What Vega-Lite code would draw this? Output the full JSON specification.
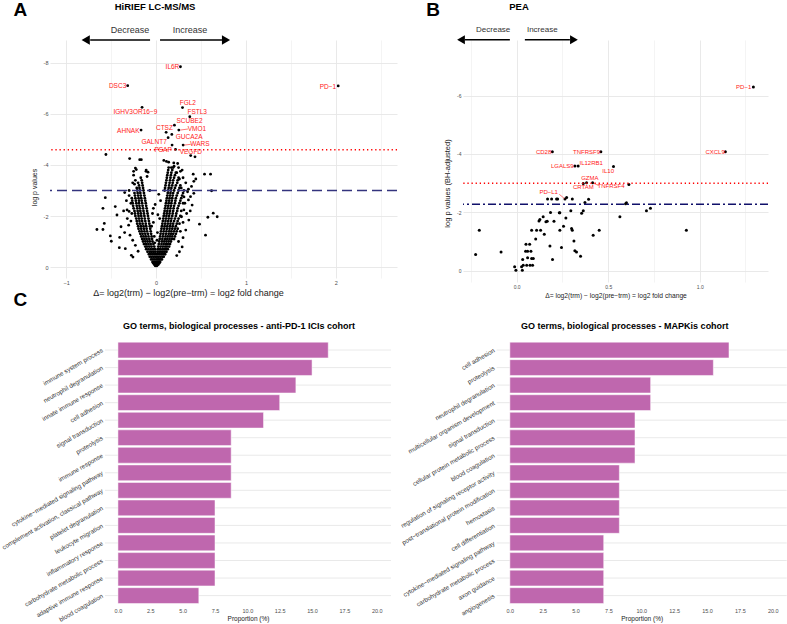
{
  "$schema": "https://vega.github.io/schema/vega-lite/v6.json",
  "padding": {"left": 0, "top": 0, "right": 0, "bottom": 0},
  "config": {
    "font": "Liberation Sans",
    "view": {"stroke": null},
    "axis": {"domain": false, "ticks": false, "gridColor": "#E6E6E6", "labelColor": "#4D4D4D", "titleColor": "#1A1A1A", "titleFontWeight": "normal"},
    "title": {"color": "#000000"}
  },
  "datasets": {
    "aPts": [
      {"x":0.271,"y":7.85},{"x":-0.316,"y":7.11},{"x":2.026,"y":7.1},{"x":0.294,"y":6.25},{"x":-0.156,"y":6.26},{"x":0.375,"y":5.89},{"x":0.204,"y":5.56},{"x":0.112,"y":5.28},{"x":0.253,"y":5.37},{"x":-0.167,"y":5.37},{"x":0.175,"y":5.2},{"x":0.134,"y":5.07},{"x":0.301,"y":4.78},{"x":0.178,"y":4.78},{"x":0.216,"y":4.61},{"x":0.385,"y":4.37},{"x":0.433,"y":4.32},
      {"x":-0.558,"y":4.41},{"x":-0.294,"y":4.25},{"x":-0.182,"y":4.21},{"x":-0.164,"y":4.21},{"x":-0.23,"y":3.88},{"x":-0.25,"y":3.75},{"x":-0.22,"y":3.82},{"x":-0.112,"y":3.75},{"x":-0.09,"y":3.72},{"x":-0.1,"y":3.55},{"x":-0.25,"y":3.6},{"x":-0.23,"y":3.4},{"x":-0.26,"y":3.3},{"x":-0.24,"y":3.25},{"x":-0.349,"y":2.92},{"x":-0.565,"y":2.72},{"x":-0.591,"y":2.3},{"x":-0.454,"y":2.37},{"x":-0.435,"y":2.04},{"x":-0.361,"y":2.2},{"x":-0.323,"y":2.24},{"x":-0.3,"y":2.18},{"x":-0.576,"y":1.71},{"x":-0.658,"y":1.47},{"x":-0.591,"y":1.47},{"x":-0.509,"y":1.22},{"x":-0.498,"y":1.01},{"x":-0.405,"y":1.16},{"x":-0.409,"y":0.76},{"x":-0.342,"y":0.72},{"x":-0.275,"y":0.46},{"x":-0.257,"y":0.39},{"x":-0.39,"y":1.58},{"x":-0.305,"y":1.64},{"x":-0.28,"y":1.8},{"x":-0.33,"y":2.6},{"x":-0.3,"y":2.8},{"x":-0.28,"y":2.5},{"x":-0.32,"y":1.9},{"x":-0.35,"y":1.35},{"x":-0.29,"y":1.25},{"x":-0.26,"y":1.05},{"x":-0.23,"y":0.85},{"x":-0.2,"y":0.62},{"x":-0.27,"y":2.1},{"x":-0.3,"y":3.0},
      {"x":0.086,"y":4.18},{"x":0.115,"y":4.14},{"x":0.14,"y":4.11},{"x":0.197,"y":4.08},{"x":0.24,"y":4.06},{"x":0.271,"y":3.75},{"x":0.25,"y":3.9},{"x":0.413,"y":3.64},{"x":0.442,"y":3.45},{"x":0.42,"y":3.36},{"x":0.394,"y":3.16},{"x":0.539,"y":3.64},{"x":0.606,"y":3.64},{"x":0.617,"y":2.99},{"x":0.42,"y":2.89},{"x":0.383,"y":2.76},{"x":0.36,"y":2.63},{"x":0.401,"y":2.43},{"x":0.309,"y":2.24},{"x":0.283,"y":1.97},{"x":0.364,"y":1.84},{"x":0.483,"y":1.68},{"x":0.576,"y":1.95},{"x":0.636,"y":2.11},{"x":0.68,"y":1.97},{"x":0.55,"y":1.25},{"x":0.33,"y":1.45},{"x":0.3,"y":1.15},{"x":0.29,"y":0.79},{"x":0.26,"y":0.6},{"x":0.23,"y":0.45},{"x":0.35,"y":2.95},{"x":0.33,"y":3.3},{"x":0.3,"y":3.5},{"x":0.28,"y":3.1},{"x":0.32,"y":2.5},{"x":0.34,"y":2.1},{"x":0.3,"y":1.75},{"x":0.27,"y":1.4},{"x":0.25,"y":1.0},{"x":0.31,"y":2.75},{"x":0.36,"y":3.05},{"x":0.38,"y":2.2},{"x":0.29,"y":3.8},{"x":0.2,"y":3.95},{"x":0.17,"y":3.9},{"x":0.23,"y":3.7},{"x":0.26,"y":3.45},
      {"x":-0.05,"y":1.6},{"x":0.04,"y":1.9},{"x":-0.03,"y":2.3},{"x":0.05,"y":2.6},{"x":-0.02,"y":1.2},{"x":0.015,"y":1.35},{"x":-0.03,"y":1.75},{"x":0.02,"y":2.05},{"x":-0.01,"y":2.45},{"x":0.03,"y":2.85},{"x":-0.04,"y":2.1},{"x":0.01,"y":1.05},{"x":-0.015,"y":0.95},
      {"x":-0.01,"y":0.05},{"x":0,"y":0.05},{"x":0.01,"y":0.05},
      {"x":-0.02,"y":0.1},{"x":-0.01,"y":0.1},{"x":0.005,"y":0.1},{"x":0.015,"y":0.1},{"x":0.025,"y":0.1},
      {"x":-0.03,"y":0.15},{"x":-0.015,"y":0.15},{"x":0,"y":0.15},{"x":0.012,"y":0.15},{"x":0.025,"y":0.15},{"x":0.035,"y":0.15},
      {"x":-0.04,"y":0.2},{"x":-0.025,"y":0.2},{"x":-0.01,"y":0.2},{"x":0.005,"y":0.2},{"x":0.02,"y":0.2},{"x":0.035,"y":0.2},{"x":0.045,"y":0.2},
      {"x":-0.055,"y":0.3},{"x":-0.035,"y":0.3},{"x":-0.015,"y":0.3},{"x":0.005,"y":0.3},{"x":0.02,"y":0.3},{"x":0.035,"y":0.3},{"x":0.05,"y":0.3},{"x":0.065,"y":0.3},
      {"x":-0.07,"y":0.4},{"x":-0.05,"y":0.4},{"x":-0.03,"y":0.4},{"x":-0.01,"y":0.4},{"x":0.01,"y":0.4},{"x":0.03,"y":0.4},{"x":0.05,"y":0.4},{"x":0.07,"y":0.4},{"x":0.085,"y":0.4},
      {"x":-0.08,"y":0.5},{"x":-0.06,"y":0.5},{"x":-0.04,"y":0.5},{"x":-0.02,"y":0.5},{"x":0,"y":0.5},{"x":0.02,"y":0.5},{"x":0.04,"y":0.5},{"x":0.06,"y":0.5},{"x":0.08,"y":0.5},{"x":0.1,"y":0.5},
      {"x":-0.095,"y":0.6},{"x":-0.07,"y":0.6},{"x":-0.05,"y":0.6},{"x":-0.03,"y":0.6},{"x":-0.01,"y":0.6},{"x":0.015,"y":0.6},{"x":0.035,"y":0.6},{"x":0.055,"y":0.6},{"x":0.075,"y":0.6},{"x":0.095,"y":0.6},{"x":0.115,"y":0.6},
      {"x":-0.11,"y":0.7},{"x":-0.085,"y":0.7},{"x":-0.06,"y":0.7},{"x":-0.035,"y":0.7},{"x":-0.01,"y":0.7},{"x":0.02,"y":0.7},{"x":0.045,"y":0.7},{"x":0.07,"y":0.7},{"x":0.09,"y":0.7},{"x":0.11,"y":0.7},{"x":0.13,"y":0.7},
      {"x":-0.12,"y":0.8},{"x":-0.1,"y":0.8},{"x":-0.075,"y":0.8},{"x":-0.05,"y":0.8},{"x":-0.02,"y":0.8},{"x":0.025,"y":0.8},{"x":0.05,"y":0.8},{"x":0.075,"y":0.8},{"x":0.1,"y":0.8},{"x":0.12,"y":0.8},{"x":0.145,"y":0.8},
      {"x":-0.135,"y":0.9},{"x":-0.11,"y":0.9},{"x":-0.085,"y":0.9},{"x":-0.06,"y":0.9},{"x":-0.03,"y":0.9},{"x":0.03,"y":0.9},{"x":0.06,"y":0.9},{"x":0.085,"y":0.9},{"x":0.11,"y":0.9},{"x":0.13,"y":0.9},{"x":0.155,"y":0.9},
      {"x":-0.145,"y":1.0},{"x":-0.12,"y":1.0},{"x":-0.095,"y":1.0},{"x":-0.07,"y":1.0},{"x":-0.04,"y":1.0},{"x":0.035,"y":1.0},{"x":0.065,"y":1.0},{"x":0.09,"y":1.0},{"x":0.115,"y":1.0},{"x":0.14,"y":1.0},{"x":0.165,"y":1.0},
      {"x":-0.155,"y":1.1},{"x":-0.13,"y":1.1},{"x":-0.105,"y":1.1},{"x":-0.075,"y":1.1},{"x":-0.045,"y":1.1},{"x":0.04,"y":1.1},{"x":0.07,"y":1.1},{"x":0.1,"y":1.1},{"x":0.125,"y":1.1},{"x":0.15,"y":1.1},{"x":0.175,"y":1.1},{"x":0.2,"y":1.1},
      {"x":-0.165,"y":1.2},{"x":-0.14,"y":1.2},{"x":-0.115,"y":1.2},{"x":-0.085,"y":1.2},{"x":-0.05,"y":1.2},{"x":0.045,"y":1.2},{"x":0.075,"y":1.2},{"x":0.105,"y":1.2},{"x":0.13,"y":1.2},{"x":0.155,"y":1.2},{"x":0.18,"y":1.2},{"x":0.21,"y":1.2},
      {"x":-0.175,"y":1.3},{"x":-0.15,"y":1.3},{"x":-0.12,"y":1.3},{"x":-0.09,"y":1.3},{"x":-0.055,"y":1.3},{"x":0.05,"y":1.3},{"x":0.08,"y":1.3},{"x":0.11,"y":1.3},{"x":0.14,"y":1.3},{"x":0.165,"y":1.3},{"x":0.19,"y":1.3},{"x":0.22,"y":1.3},
      {"x":-0.185,"y":1.4},{"x":-0.16,"y":1.4},{"x":-0.13,"y":1.4},{"x":-0.1,"y":1.4},{"x":-0.06,"y":1.4},{"x":0.055,"y":1.4},{"x":0.085,"y":1.4},{"x":0.115,"y":1.4},{"x":0.145,"y":1.4},{"x":0.17,"y":1.4},{"x":0.2,"y":1.4},{"x":0.23,"y":1.4},
      {"x":-0.195,"y":1.5},{"x":-0.165,"y":1.5},{"x":-0.135,"y":1.5},{"x":-0.105,"y":1.5},{"x":-0.065,"y":1.5},{"x":0.06,"y":1.5},{"x":0.09,"y":1.5},{"x":0.12,"y":1.5},{"x":0.15,"y":1.5},{"x":0.18,"y":1.5},{"x":0.21,"y":1.5},{"x":0.24,"y":1.5},
      {"x":-0.2,"y":1.6},{"x":-0.17,"y":1.6},{"x":-0.14,"y":1.6},{"x":-0.11,"y":1.6},{"x":-0.07,"y":1.6},{"x":0.065,"y":1.6},{"x":0.095,"y":1.6},{"x":0.125,"y":1.6},{"x":0.155,"y":1.6},{"x":0.185,"y":1.6},{"x":0.22,"y":1.6},
      {"x":-0.21,"y":1.7},{"x":-0.18,"y":1.7},{"x":-0.15,"y":1.7},{"x":-0.115,"y":1.7},{"x":-0.075,"y":1.7},{"x":0.07,"y":1.7},{"x":0.1,"y":1.7},{"x":0.13,"y":1.7},{"x":0.16,"y":1.7},{"x":0.19,"y":1.7},{"x":0.23,"y":1.7},{"x":0.26,"y":1.7},
      {"x":-0.215,"y":1.8},{"x":-0.185,"y":1.8},{"x":-0.155,"y":1.8},{"x":-0.12,"y":1.8},{"x":-0.08,"y":1.8},{"x":0.075,"y":1.8},{"x":0.105,"y":1.8},{"x":0.135,"y":1.8},{"x":0.165,"y":1.8},{"x":0.2,"y":1.8},{"x":0.24,"y":1.8},
      {"x":-0.22,"y":1.9},{"x":-0.19,"y":1.9},{"x":-0.16,"y":1.9},{"x":-0.125,"y":1.9},{"x":-0.085,"y":1.9},{"x":0.08,"y":1.9},{"x":0.11,"y":1.9},{"x":0.14,"y":1.9},{"x":0.17,"y":1.9},{"x":0.21,"y":1.9},{"x":0.25,"y":1.9},
      {"x":-0.23,"y":2.0},{"x":-0.195,"y":2.0},{"x":-0.165,"y":2.0},{"x":-0.13,"y":2.0},{"x":-0.09,"y":2.0},{"x":0.085,"y":2.0},{"x":0.115,"y":2.0},{"x":0.145,"y":2.0},{"x":0.18,"y":2.0},{"x":0.22,"y":2.0},{"x":0.27,"y":2.0},
      {"x":-0.235,"y":2.1},{"x":-0.2,"y":2.1},{"x":-0.17,"y":2.1},{"x":-0.135,"y":2.1},{"x":-0.095,"y":2.1},{"x":0.09,"y":2.1},{"x":0.12,"y":2.1},{"x":0.15,"y":2.1},{"x":0.185,"y":2.1},{"x":0.225,"y":2.1},
      {"x":-0.24,"y":2.2},{"x":-0.205,"y":2.2},{"x":-0.175,"y":2.2},{"x":-0.14,"y":2.2},{"x":-0.1,"y":2.2},{"x":0.095,"y":2.2},{"x":0.125,"y":2.2},{"x":0.155,"y":2.2},{"x":0.19,"y":2.2},{"x":0.235,"y":2.2},{"x":0.28,"y":2.2},
      {"x":-0.25,"y":2.3},{"x":-0.21,"y":2.3},{"x":-0.18,"y":2.3},{"x":-0.145,"y":2.3},{"x":-0.105,"y":2.3},{"x":0.1,"y":2.3},{"x":0.13,"y":2.3},{"x":0.16,"y":2.3},{"x":0.195,"y":2.3},{"x":0.24,"y":2.3},
      {"x":-0.255,"y":2.4},{"x":-0.215,"y":2.4},{"x":-0.185,"y":2.4},{"x":-0.15,"y":2.4},{"x":-0.11,"y":2.4},{"x":0.105,"y":2.4},{"x":0.135,"y":2.4},{"x":0.165,"y":2.4},{"x":0.2,"y":2.4},{"x":0.25,"y":2.4},
      {"x":-0.26,"y":2.5},{"x":-0.22,"y":2.5},{"x":-0.19,"y":2.5},{"x":-0.155,"y":2.5},{"x":-0.115,"y":2.5},{"x":0.11,"y":2.5},{"x":0.14,"y":2.5},{"x":0.17,"y":2.5},{"x":0.21,"y":2.5},{"x":0.26,"y":2.5},{"x":0.3,"y":2.5},
      {"x":-0.265,"y":2.6},{"x":-0.225,"y":2.6},{"x":-0.19,"y":2.6},{"x":-0.16,"y":2.6},{"x":-0.12,"y":2.6},{"x":0.115,"y":2.6},{"x":0.145,"y":2.6},{"x":0.175,"y":2.6},{"x":0.215,"y":2.6},{"x":0.27,"y":2.6},
      {"x":-0.27,"y":2.7},{"x":-0.23,"y":2.7},{"x":-0.195,"y":2.7},{"x":-0.165,"y":2.7},{"x":-0.125,"y":2.7},{"x":0.12,"y":2.7},{"x":0.15,"y":2.7},{"x":0.18,"y":2.7},{"x":0.22,"y":2.7},{"x":0.28,"y":2.7},
      {"x":-0.235,"y":2.8},{"x":-0.2,"y":2.8},{"x":-0.17,"y":2.8},{"x":-0.13,"y":2.8},{"x":0.125,"y":2.8},{"x":0.155,"y":2.8},{"x":0.185,"y":2.8},{"x":0.23,"y":2.8},{"x":0.29,"y":2.8},
      {"x":-0.24,"y":2.9},{"x":-0.205,"y":2.9},{"x":-0.175,"y":2.9},{"x":-0.135,"y":2.9},{"x":0.13,"y":2.9},{"x":0.16,"y":2.9},{"x":0.19,"y":2.9},{"x":0.24,"y":2.9},{"x":0.3,"y":2.9},
      {"x":-0.21,"y":3.0},{"x":-0.18,"y":3.0},{"x":-0.14,"y":3.0},{"x":-0.07,"y":3.0},{"x":0.095,"y":3.0},{"x":0.135,"y":3.0},{"x":0.165,"y":3.0},{"x":0.2,"y":3.0},{"x":0.25,"y":3.0},{"x":0.31,"y":3.0},
      {"x":-0.215,"y":3.1},{"x":-0.185,"y":3.1},{"x":-0.145,"y":3.1},{"x":0.1,"y":3.1},{"x":0.14,"y":3.1},{"x":0.17,"y":3.1},{"x":0.21,"y":3.1},{"x":0.26,"y":3.1},
      {"x":-0.19,"y":3.2},{"x":-0.15,"y":3.2},{"x":0.105,"y":3.2},{"x":0.145,"y":3.2},{"x":0.18,"y":3.2},{"x":0.22,"y":3.2},{"x":0.27,"y":3.2},
      {"x":-0.2,"y":3.3},{"x":-0.155,"y":3.3},{"x":0.11,"y":3.3},{"x":0.15,"y":3.3},{"x":0.185,"y":3.3},{"x":0.235,"y":3.3},
      {"x":-0.16,"y":3.4},{"x":0.115,"y":3.4},{"x":0.155,"y":3.4},{"x":0.19,"y":3.4},{"x":0.24,"y":3.4},
      {"x":-0.17,"y":3.5},{"x":0.12,"y":3.5},{"x":0.16,"y":3.5},{"x":0.2,"y":3.5},{"x":0.25,"y":3.5},
      {"x":0.125,"y":3.6},{"x":0.165,"y":3.6},{"x":0.21,"y":3.6},
      {"x":0.13,"y":3.7},{"x":0.17,"y":3.7},{"x":0.22,"y":3.7},
      {"x":-0.11,"y":3.8},{"x":0.135,"y":3.8},{"x":0.18,"y":3.8},
      {"x":0.14,"y":3.9},{"x":0.19,"y":3.9}
    ],
    "aLab": [
      {"lx":0.182,"ly":7.84,"label":"IL6R"},{"lx":-0.428,"ly":7.11,"label":"DSC3"},{"lx":1.911,"ly":7.07,"label":"PD−1"},{"lx":0.353,"ly":6.42,"label":"FGL2"},{"lx":-0.23,"ly":6.09,"label":"IGHV3OR16−9"},{"lx":0.457,"ly":6.07,"label":"FSTL3"},{"lx":0.372,"ly":5.73,"label":"SCUBE2"},{"lx":0.093,"ly":5.44,"label":"CTSZ"},{"lx":0.454,"ly":5.41,"label":"VMO1"},{"lx":-0.309,"ly":5.35,"label":"AHNAK"},{"lx":0.368,"ly":5.11,"label":"GUCA2A"},{"lx":-0.022,"ly":4.9,"label":"GALNT7"},{"lx":0.487,"ly":4.81,"label":"WARS"},{"lx":0.078,"ly":4.59,"label":"PSAP"},{"lx":0.387,"ly":4.5,"label":"VEGFD"}
    ],
    "aSeg": [{"x":0.27,"y":5.37,"x2":0.355,"y2":5.41},{"x":0.31,"y":4.78,"x2":0.385,"y2":4.81}],
    "aArrow": [{"x":-0.733,"x2":-0.067,"y":8.9},{"x":0.044,"x2":0.733,"y":8.9}],
    "aHead": [{"x":-0.783,"y":8.9,"dir":"left"},{"x":0.778,"y":8.9,"dir":"right"}],
    "aWords": [{"x":-0.289,"y":9.29,"t":"Decrease"},{"x":0.378,"y":9.29,"t":"Increase"}],
    "aHeading": [{"x":-0.011,"y":10.18,"t":"HiRIEF LC-MS/MS"}],
    "aLetters": [{"x":-1.511,"y":10.08,"t":"A"},{"x":-1.511,"y":-1.29,"t":"C"}],
    "bPts": [
      {"x":1.293,"y":6.29},{"x":0.195,"y":4.08},{"x":0.46,"y":4.08},{"x":1.14,"y":4.08},{"x":0.318,"y":3.59},{"x":0.336,"y":3.59},{"x":0.529,"y":3.57},{"x":0.364,"y":2.99},{"x":0.382,"y":3.02},{"x":0.415,"y":3.02},{"x":0.613,"y":2.96},{"x":0.264,"y":2.46},
      {"x":-0.224,"y":0.56},{"x":-0.204,"y":1.39},{"x":-0.085,"y":0.65},{"x":-0.011,"y":0.14},{"x":-0.004,"y":0.02},{"x":0.027,"y":0.14},{"x":0.031,"y":0.02},{"x":0.033,"y":0.39},{"x":0.036,"y":0.19},{"x":0.049,"y":0.67},{"x":0.055,"y":0.19},{"x":0.06,"y":0.45},{"x":0.051,"y":0.91},{"x":0.071,"y":0.91},{"x":0.06,"y":0.67},{"x":0.073,"y":0.19},{"x":0.082,"y":0.42},{"x":0.078,"y":0.67},{"x":0.087,"y":0.19},{"x":0.091,"y":0.42},{"x":0.104,"y":1.09},{"x":0.082,"y":1.39},{"x":0.109,"y":1.39},{"x":0.131,"y":1.39},{"x":0.122,"y":1.71},{"x":0.127,"y":1.76},{"x":0.145,"y":1.85},{"x":0.16,"y":1.68},{"x":0.167,"y":1.7},{"x":0.185,"y":2.0},{"x":0.204,"y":1.7},{"x":0.151,"y":1.25},{"x":0.182,"y":0.85},{"x":0.196,"y":0.39},{"x":0.233,"y":1.99},{"x":0.236,"y":1.99},{"x":0.236,"y":1.39},{"x":0.245,"y":0.8},{"x":0.256,"y":1.53},{"x":0.269,"y":1.81},{"x":0.296,"y":2.06},{"x":0.3,"y":1.45},{"x":0.304,"y":1.39},{"x":0.313,"y":1.02},{"x":0.318,"y":0.69},{"x":0.327,"y":0.65},{"x":0.349,"y":0.5},{"x":0.355,"y":1.97},{"x":0.364,"y":2.06},{"x":0.373,"y":2.34},{"x":0.393,"y":2.45},{"x":0.418,"y":1.22},{"x":0.451,"y":1.39},{"x":0.169,"y":2.46},{"x":0.191,"y":2.46},{"x":0.218,"y":2.46},{"x":0.224,"y":2.46},{"x":0.273,"y":2.51},{"x":0.304,"y":2.46},{"x":0.564,"y":1.85},{"x":0.6,"y":2.33},{"x":0.595,"y":2.3},{"x":0.709,"y":2.06},{"x":0.731,"y":2.14},{"x":0.927,"y":1.39}
    ],
    "bLab": [
      {"lx":1.24,"ly":6.29,"label":"PD−1"},{"lx":0.147,"ly":4.08,"label":"CD28"},{"lx":0.382,"ly":4.08,"label":"TNFRSF9"},{"lx":1.084,"ly":4.08,"label":"CXCL9"},{"lx":0.249,"ly":3.59,"label":"LGALS9"},{"lx":0.407,"ly":3.7,"label":"IL12RB1"},{"lx":0.5,"ly":3.42,"label":"IL10"},{"lx":0.4,"ly":3.17,"label":"GZMA"},{"lx":0.364,"ly":2.87,"label":"CRTAM"},{"lx":0.516,"ly":2.9,"label":"TNFRSF4"},{"lx":0.175,"ly":2.69,"label":"PD−L1"}
    ],
    "bSeg": [{"x":0.233,"y":2.62,"x2":0.262,"y2":2.47},{"x":0.42,"y":3.0,"x2":0.448,"y2":2.92}],
    "bArrow": [{"x":-0.283,"x2":-0.037,"y":7.91},{"x":0.045,"x2":0.291,"y":7.91}],
    "bHead": [{"x":-0.304,"y":7.91,"dir":"left"},{"x":0.313,"y":7.91,"dir":"right"}],
    "bWords": [{"x":-0.128,"y":8.25,"t":"Decrease"},{"x":0.14,"y":8.25,"t":"Increase"}],
    "bHeading": [{"x":0.013,"y":9.03,"t":"PEA"}],
    "bLetters": [{"x":-0.456,"y":8.94,"t":"B"}],
    "c1": [
      {"term":"immune system process","p":16.25},{"term":"neutrophil degranulation","p":15.0},{"term":"innate immune response","p":13.75},{"term":"cell adhesion","p":12.5},{"term":"signal transduction","p":11.25},{"term":"proteolysis","p":8.75},{"term":"immune response","p":8.75},{"term":"cytokine−mediated signaling pathway","p":8.75},{"term":"complement activation, classical pathway","p":8.75},{"term":"platelet degranulation","p":7.5},{"term":"leukocyte migration","p":7.5},{"term":"inflammatory response","p":7.5},{"term":"carbohydrate metabolic process","p":7.5},{"term":"adaptive immune response","p":7.5},{"term":"blood coagulation","p":6.25}
    ],
    "c2": [
      {"term":"cell adhesion","p":16.67},{"term":"proteolysis","p":15.48},{"term":"neutrophil degranulation","p":10.71},{"term":"multicellular organism development","p":10.71},{"term":"signal transduction","p":9.52},{"term":"cellular protein metabolic process","p":9.52},{"term":"blood coagulation","p":9.52},{"term":"regulation of signaling receptor activity","p":8.33},{"term":"post−translational protein modification","p":8.33},{"term":"hemostasis","p":8.33},{"term":"cell differentiation","p":8.33},{"term":"cytokine−mediated signaling pathway","p":7.14},{"term":"carbohydrate metabolic process","p":7.14},{"term":"axon guidance","p":7.14},{"term":"angiogenesis","p":7.14}
    ]
  },
  "columns": 2,
  "bounds": "flush",
  "spacing": {"row": 57.5, "column": 66},
  "concat": [
    {
      "width": 347,
      "height": 238,
      "layer": [
        {
          "data": {"name": "aPts"},
          "mark": {"type": "circle", "size": 8, "color": "#000000", "opacity": 1},
          "encoding": {
            "x": {"field": "x", "type": "quantitative", "scale": {"domain": [-1.18, 2.68], "nice": false, "zero": false},
              "axis": {"title": "Δ= log2(trm) − log2(pre−trm) = log2 fold change", "values": [-1, -0.5, 0, 0.5, 1, 1.5, 2, 2.5], "format": ".0f", "labelExpr": "datum.value % 1 === 0 ? datum.label : ''", "gridWidth": {"condition": {"test": "datum.value % 1 === 0", "value": 0.9}, "value": 0.45}, "labelFontSize": 5.5, "labelPadding": 2, "titleFontSize": 9, "titlePadding": 3, "titleX": 138}},
            "y": {"field": "y", "type": "quantitative", "scale": {"domain": [-0.43, 8.9], "nice": false, "zero": false},
              "axis": {"title": "log  p  values", "values": [0, 1, 2, 3, 4, 5, 6, 7, 8], "labelExpr": "datum.value % 2 === 0 ? (datum.value === 0 ? '0' : '-' + datum.label) : ''", "gridWidth": {"condition": {"test": "datum.value % 2 === 0", "value": 0.9}, "value": 0.45}, "labelFontSize": 5.5, "labelPadding": 2, "titleFontSize": 7, "titlePadding": 6, "titleY": 147}}
          }
        },
        {
          "data": {"values": [{"y": 4.6}]},
          "mark": {"type": "rule", "color": "#FF0000", "strokeDash": [1.3, 2.8], "strokeWidth": 1.4},
          "encoding": {"y": {"field": "y", "type": "quantitative"}}
        },
        {
          "data": {"values": [{"y": 3.0}]},
          "mark": {"type": "rule", "color": "#34347E", "strokeDash": [10, 5], "strokeWidth": 1.6},
          "encoding": {"y": {"field": "y", "type": "quantitative"}}
        },
        {
          "data": {"name": "aSeg"},
          "mark": {"type": "rule", "color": "#FF2020", "strokeWidth": 0.6},
          "encoding": {"x": {"field": "x", "type": "quantitative"}, "y": {"field": "y", "type": "quantitative"}, "x2": {"field": "x2"}, "y2": {"field": "y2"}}
        },
        {
          "data": {"name": "aLab"},
          "mark": {"type": "text", "color": "#FF2020", "fontSize": 6.5, "align": "center", "baseline": "middle"},
          "encoding": {"x": {"field": "lx", "type": "quantitative"}, "y": {"field": "ly", "type": "quantitative"}, "text": {"field": "label"}}
        },
        {
          "data": {"name": "aArrow"},
          "mark": {"type": "rule", "color": "#000000", "strokeWidth": 1.5},
          "encoding": {"x": {"field": "x", "type": "quantitative"}, "x2": {"field": "x2"}, "y": {"field": "y", "type": "quantitative"}}
        },
        {
          "data": {"name": "aHead"},
          "mark": {"type": "point", "filled": true, "color": "#000000", "size": 90, "opacity": 1},
          "encoding": {"x": {"field": "x", "type": "quantitative"}, "y": {"field": "y", "type": "quantitative"}, "shape": {"field": "dir", "type": "nominal", "scale": {"domain": ["left", "right"], "range": ["triangle-left", "triangle-right"]}, "legend": null}}
        },
        {
          "data": {"name": "aWords"},
          "mark": {"type": "text", "color": "#333333", "fontSize": 9},
          "encoding": {"x": {"field": "x", "type": "quantitative"}, "y": {"field": "y", "type": "quantitative"}, "text": {"field": "t"}}
        },
        {
          "data": {"name": "aHeading"},
          "mark": {"type": "text", "color": "#000000", "fontSize": 9.5, "fontWeight": "bold"},
          "encoding": {"x": {"field": "x", "type": "quantitative"}, "y": {"field": "y", "type": "quantitative"}, "text": {"field": "t"}}
        },
        {
          "data": {"name": "aLetters"},
          "mark": {"type": "text", "color": "#000000", "fontSize": 19, "fontWeight": "bold"},
          "encoding": {"x": {"field": "x", "type": "quantitative"}, "y": {"field": "y", "type": "quantitative"}, "text": {"field": "t"}}
        }
      ]
    },
    {
      "width": 305,
      "height": 242,
      "layer": [
        {
          "data": {"name": "bPts"},
          "mark": {"type": "circle", "size": 9, "color": "#000000", "opacity": 1},
          "encoding": {
            "x": {"field": "x", "type": "quantitative", "scale": {"domain": [-0.293, 1.373], "nice": false, "zero": false},
              "axis": {"title": "Δ= log2(trm) − log2(pre−trm) = log2 fold change", "values": [-0.25, 0, 0.25, 0.5, 0.75, 1, 1.25], "format": ".1f", "labelExpr": "datum.value % 0.5 === 0 ? datum.label : ''", "gridWidth": {"condition": {"test": "datum.value % 0.5 === 0", "value": 0.9}, "value": 0.45}, "labelFontSize": 5, "labelPadding": 2, "titleFontSize": 6.7, "titlePadding": 3}},
            "y": {"field": "y", "type": "quantitative", "scale": {"domain": [-0.38, 7.9], "nice": false, "zero": false},
              "axis": {"title": "log  p  values (BH-adjusted)", "values": [0, 1, 2, 3, 4, 5, 6, 7], "labelExpr": "datum.value % 2 === 0 ? (datum.value === 0 ? '0' : '-' + datum.label) : ''", "gridWidth": {"condition": {"test": "datum.value % 2 === 0", "value": 0.9}, "value": 0.45}, "labelFontSize": 5, "labelPadding": 2, "titleFontSize": 7.5, "titlePadding": 5, "titleY": 143}}
          }
        },
        {
          "data": {"values": [{"y": 3.0}]},
          "mark": {"type": "rule", "color": "#FF0000", "strokeDash": [1.3, 2.8], "strokeWidth": 1.4},
          "encoding": {"y": {"field": "y", "type": "quantitative"}}
        },
        {
          "data": {"values": [{"y": 2.28}]},
          "mark": {"type": "rule", "color": "#10106A", "strokeDash": [8, 3, 2, 3], "strokeWidth": 1.6},
          "encoding": {"y": {"field": "y", "type": "quantitative"}}
        },
        {
          "data": {"name": "bSeg"},
          "mark": {"type": "rule", "color": "#FF2020", "strokeWidth": 0.6},
          "encoding": {"x": {"field": "x", "type": "quantitative"}, "y": {"field": "y", "type": "quantitative"}, "x2": {"field": "x2"}, "y2": {"field": "y2"}}
        },
        {
          "data": {"name": "bLab"},
          "mark": {"type": "text", "color": "#FF2020", "fontSize": 6, "align": "center", "baseline": "middle"},
          "encoding": {"x": {"field": "lx", "type": "quantitative"}, "y": {"field": "ly", "type": "quantitative"}, "text": {"field": "label"}}
        },
        {
          "data": {"name": "bArrow"},
          "mark": {"type": "rule", "color": "#000000", "strokeWidth": 1.5},
          "encoding": {"x": {"field": "x", "type": "quantitative"}, "x2": {"field": "x2"}, "y": {"field": "y", "type": "quantitative"}}
        },
        {
          "data": {"name": "bHead"},
          "mark": {"type": "point", "filled": true, "color": "#000000", "size": 80, "opacity": 1},
          "encoding": {"x": {"field": "x", "type": "quantitative"}, "y": {"field": "y", "type": "quantitative"}, "shape": {"field": "dir", "type": "nominal", "scale": {"domain": ["left", "right"], "range": ["triangle-left", "triangle-right"]}, "legend": null}}
        },
        {
          "data": {"name": "bWords"},
          "mark": {"type": "text", "color": "#333333", "fontSize": 8},
          "encoding": {"x": {"field": "x", "type": "quantitative"}, "y": {"field": "y", "type": "quantitative"}, "text": {"field": "t"}}
        },
        {
          "data": {"name": "bHeading"},
          "mark": {"type": "text", "color": "#000000", "fontSize": 9.5, "fontWeight": "bold"},
          "encoding": {"x": {"field": "x", "type": "quantitative"}, "y": {"field": "y", "type": "quantitative"}, "text": {"field": "t"}}
        },
        {
          "data": {"name": "bLetters"},
          "mark": {"type": "text", "color": "#000000", "fontSize": 19, "fontWeight": "bold"},
          "encoding": {"x": {"field": "x", "type": "quantitative"}, "y": {"field": "y", "type": "quantitative"}, "text": {"field": "t"}}
        }
      ]
    },
    {
      "width": 341,
      "height": 266.6,
      "data": {"name": "c1"},
      "title": {"text": "GO terms, biological processes - anti-PD-1 ICIs cohort", "frame": "group", "dx": 18.5, "fontSize": 9, "fontWeight": "bold", "offset": 9},
      "layer": [
        {
          "mark": {"type": "rule", "color": "#E6E6E6", "strokeWidth": 0.9},
          "encoding": {
            "y": {"field": "term", "type": "nominal", "sort": null, "scale": {"paddingInner": 0.1, "paddingOuter": 0.15},
              "axis": {"title": null, "grid": false, "offset": -55, "labelAngle": -30, "labelAlign": "right", "labelBaseline": "middle", "labelFontSize": 6.3, "labelPadding": 3, "labelLimit": 250, "labelOverlap": false, "labelColor": "#333333", "bandPosition": 0.5}},
            "x": {"datum": -1, "type": "quantitative", "scale": {"domain": [-1, 21.1], "range": [55, 341], "nice": false, "zero": false},
              "axis": {"title": "Proportion (%)", "values": [0, 1.25, 2.5, 3.75, 5, 6.25, 7.5, 8.75, 10, 11.25, 12.5, 13.75, 15, 16.25, 17.5, 18.75, 20], "format": ".1f", "labelExpr": "datum.value % 2.5 === 0 ? datum.label : ''", "gridWidth": {"condition": {"test": "datum.value % 2.5 === 0", "value": 0.9}, "value": 0.45}, "labelFontSize": 5.5, "labelPadding": 2, "titleFontSize": 6.5, "titlePadding": 2, "titleX": 198}},
            "x2": {"datum": 21.1}
          }
        },
        {
          "mark": {"type": "bar", "color": "#BF67AE", "stroke": "#FFFFFF", "strokeWidth": 0.5},
          "encoding": {
            "x": {"field": "p", "type": "quantitative"},
            "x2": {"datum": 0},
            "y": {"field": "term", "type": "nominal", "sort": null}
          }
        }
      ]
    },
    {
      "width": 323.7,
      "height": 266.6,
      "data": {"name": "c2"},
      "title": {"text": "GO terms, biological processes - MAPKis cohort", "frame": "group", "dx": 0, "fontSize": 9, "fontWeight": "bold", "offset": 9},
      "layer": [
        {
          "mark": {"type": "rule", "color": "#E6E6E6", "strokeWidth": 0.9},
          "encoding": {
            "y": {"field": "term", "type": "nominal", "sort": null, "scale": {"paddingInner": 0.1, "paddingOuter": 0.15},
              "axis": {"title": null, "grid": false, "offset": -33.7, "labelAngle": -30, "labelAlign": "right", "labelBaseline": "middle", "labelFontSize": 6.3, "labelPadding": 3, "labelLimit": 250, "labelOverlap": false, "labelColor": "#333333", "bandPosition": 0.5}},
            "x": {"datum": -1, "type": "quantitative", "scale": {"domain": [-1, 21.06], "range": [33.7, 323.7], "nice": false, "zero": false},
              "axis": {"title": "Proportion (%)", "values": [0, 1.25, 2.5, 3.75, 5, 6.25, 7.5, 8.75, 10, 11.25, 12.5, 13.75, 15, 16.25, 17.5, 18.75, 20], "format": ".1f", "labelExpr": "datum.value % 2.5 === 0 ? datum.label : ''", "gridWidth": {"condition": {"test": "datum.value % 2.5 === 0", "value": 0.9}, "value": 0.45}, "labelFontSize": 5.5, "labelPadding": 2, "titleFontSize": 6.5, "titlePadding": 2, "titleX": 178.7}},
            "x2": {"datum": 21.06}
          }
        },
        {
          "mark": {"type": "bar", "color": "#BF67AE", "stroke": "#FFFFFF", "strokeWidth": 0.5},
          "encoding": {
            "x": {"field": "p", "type": "quantitative"},
            "x2": {"datum": 0},
            "y": {"field": "term", "type": "nominal", "sort": null}
          }
        }
      ]
    }
  ]
}
